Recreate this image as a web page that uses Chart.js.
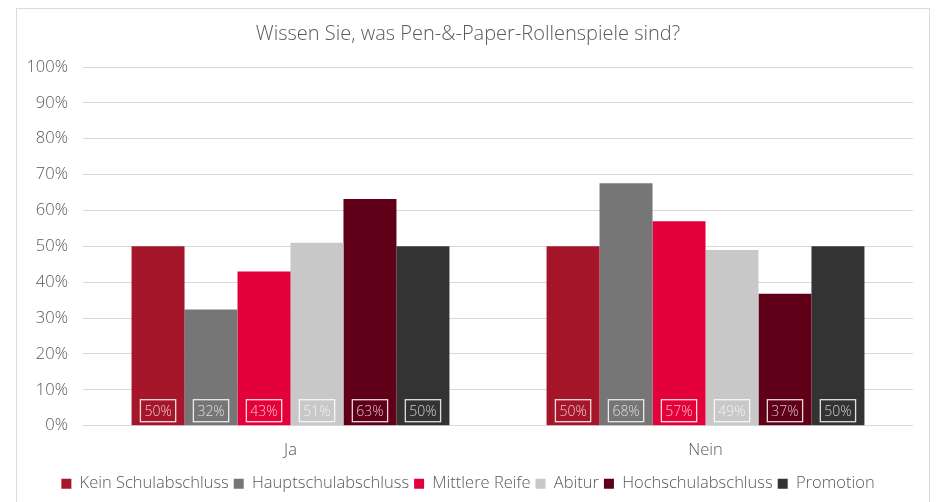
<!DOCTYPE html>
<html>
<head>
<meta charset="utf-8">
<script src="https://cdn.jsdelivr.net/npm/chart.js@4"></script>
<style>
  body { margin: 0; background: #fff; }
  #rahmen { position: absolute; left: 16px; top: 8px; width: 912px; height: 520px; border: 1px solid #dcdcdc; }
  #wrap { position: absolute; left: 0; top: 0; width: 936px; height: 502px; }
</style>
</head>
<body>
<div id="rahmen"></div>
<div id="wrap"><canvas id="chart" width="936" height="502"></canvas></div>
<script>
// Daten
const kategorien = ["Ja", "Nein"];
const serienNamen = ["Kein Schulabschluss", "Hauptschulabschluss", "Mittlere Reife", "Abitur", "Hochschulabschluss", "Promotion"];
const keinSchulabschluss = [50, 50];
const hauptschulabschluss = [32.4, 67.6];
const mittlereReife = [43, 57];
const abitur = [51, 49];
const hochschulabschluss = [63.2, 36.8];
const promotion = [50, 50];
const farben = ["#a6162a", "#767676", "#e4003a", "#c8c8c8", "#600018", "#333333"];

const werte = [keinSchulabschluss, hauptschulabschluss, mittlereReife, abitur, hochschulabschluss, promotion];

// Prozent-Boxen unten im Balken
const boxLabels = {
    id: "boxLabels",
    afterDatasetsDraw(chart) {
        const ctx = chart.ctx;
        const unten = chart.scales.y.getPixelForValue(0);
        ctx.save();
        ctx.font = "300 14px 'Open Sans'";
        ctx.textAlign = "center";
        ctx.textBaseline = "middle";
        chart.data.datasets.forEach((ds, i) => {
            const meta = chart.getDatasetMeta(i);
            meta.data.forEach((bar, j) => {
                const txt = Math.round(ds.data[j]) + "%";
                const w = ctx.measureText(txt).width + 8;
                const h = 22;
                const cy = unten - 15;
                ctx.strokeStyle = "rgba(255,255,255,0.85)";
                ctx.lineWidth = 1.3;
                ctx.strokeRect(bar.x - w / 2, cy - h / 2, w, h);
                ctx.fillStyle = "rgba(255,255,255,0.75)";
                ctx.fillText(txt, bar.x, cy + 1);
            });
        });
        ctx.restore();
    }
};

const schrift = { family: "Open Sans", size: 16.5, weight: "300" };

const ctx = document.getElementById("chart").getContext("2d");
new Chart(ctx, {
    type: "bar",
    data: {
        labels: kategorien,
        datasets: serienNamen.map((name, i) => ({
            label: name,
            data: werte[i],
            backgroundColor: farben[i],
            borderWidth: 0,
            categoryPercentage: 0.766,
            barPercentage: 1
        }))
    },
    options: {
        responsive: false,
        animation: false,
        layout: { padding: { left: 23, right: 23, top: 18, bottom: 0 } },
        plugins: {
            title: {
                display: true,
                text: "Wissen Sie, was Pen-&-Paper-Rollenspiele sind?",
                color: "#595959",
                font: { family: "Open Sans", size: 20, weight: "300" },
                padding: { top: 4, bottom: 21 }
            },
            legend: {
                position: "bottom",
                labels: {
                    color: "#595959",
                    font: schrift,
                    boxWidth: 10,
                    boxHeight: 10,
                    padding: 5
                }
            },
            tooltip: { enabled: false }
        },
        scales: {
            y: {
                min: 0,
                max: 100,
                ticks: {
                    stepSize: 10,
                    color: "#595959",
                    font: schrift,
                    padding: 15,
                    callback: v => v + "%"
                },
                grid: { color: "#d9d9d9", drawTicks: false },
                border: { display: false },
                afterFit(scale) { scale.width = 60; }
            },
            x: {
                ticks: {
                    color: "#595959",
                    font: schrift,
                    padding: 7
                },
                grid: { display: false },
                border: { display: false },
                afterFit(scale) { scale.height += 3; }
            }
        }
    },
    plugins: [boxLabels]
});
</script>
</body>
</html>
